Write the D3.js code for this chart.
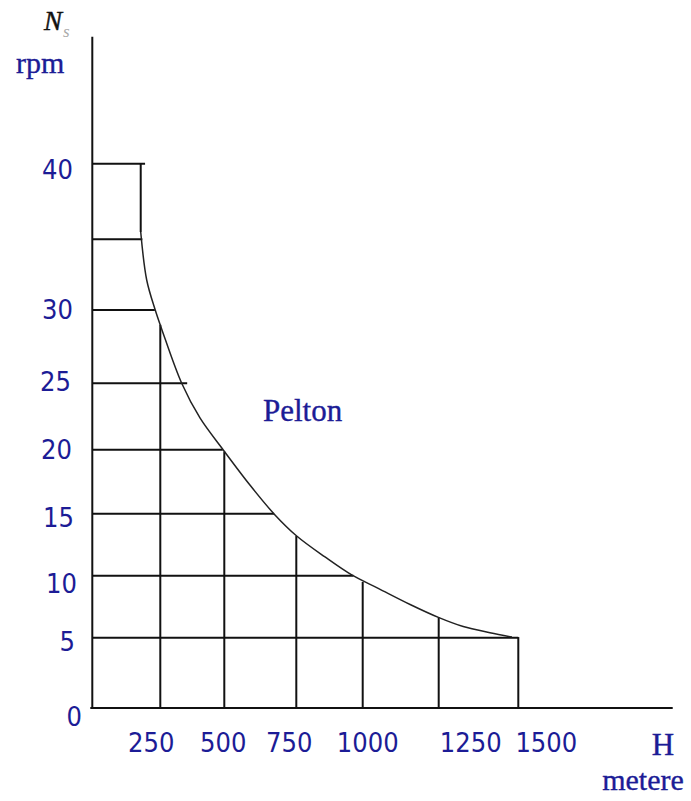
<!DOCTYPE html>
<html>
<head>
<meta charset="utf-8">
<script src="https://cdn.jsdelivr.net/npm/d3@7/dist/d3.min.js"></script>
<style>
  html, body { margin: 0; padding: 0; background: #fff; }
  svg { display: block; }
  .num { font-family: "DejaVu Sans", sans-serif; font-stretch: condensed; font-size: 27px; fill: #1c1c96; }
  .serif { font-family: "Liberation Serif", "Times New Roman", serif; fill: #1c1c96; stroke: #1c1c96; stroke-width: 0.35px; }
</style>
</head>
<body>
<script>
// Specific speed Ns (rpm) versus head H (metres) for Pelton turbines

// axis tick values / labels
const nsTicks = [0, 5, 10, 15, 20, 25, 30, 40];
const hTicks = [250, 500, 750, 1000, 1250, 1500];

// Pelton limit curve (H in metres, Ns in rpm)
const curveH  = [178, 200, 230.5, 256.6, 333.6, 405, 496, 589, 676, 751.5, 858, 958.6, 1051, 1156, 1249, 1327, 1411, 1480];
const curveNs = [35.48, 32.12, 30.05, 28.64, 25.0, 22.39, 19.98, 17.24, 14.9, 13.2, 11.51, 10.06, 8.98, 7.68, 6.64, 5.9, 5.4, 5.05];

// horizontal grid lines: Ns level and the head where each meets the curve
const gridNs   = [5, 10, 15, 20, 25, 30, 35, 40];
const gridEndH = [1500, 965, 673, 494, 355, 230, 184, 194];

// vertical grid lines: head and the Ns where each meets the curve
const vertH   = [250, 500, 750, 1000, 1250, 1500];
const vertTop = [29.0, 19.85, 13.2, 9.5, 6.64, 5.05];

// upper step of the band: vertical at H = 178 between Ns 40 and the curve start
const stepH = 178, stepNsTop = 40, stepNsBottom = 35.48;

// axis extents
const hMax = 1985, nsMax = 48.4;

const W = 691, H = 801;
const svg = d3.select("body").append("svg").attr("width", W).attr("height", H);

// piecewise axes (schematic, unevenly spaced divisions)
const x = d3.scaleLinear()
  .domain([0, 250, 500, 750, 1000, 1250, 1500])
  .range([92.3, 160.3, 224.3, 296.3, 362.7, 438.7, 518.3]);
const y = d3.scaleLinear()
  .domain([0, 5, 10, 15, 20, 25, 30, 35, 40])
  .range([708, 637.7, 575.7, 513.7, 449.7, 383.3, 310, 239.3, 163.7]);

const ink = "#111";

// grid lines
svg.append("g").selectAll("line").data(gridNs).join("line")
  .attr("x1", x(0)).attr("x2", (d, i) => x(gridEndH[i]))
  .attr("y1", d => y(d)).attr("y2", d => y(d))
  .attr("stroke", ink).attr("stroke-width", 2);

svg.append("g").selectAll("line").data(vertH).join("line")
  .attr("x1", d => x(d)).attr("x2", d => x(d))
  .attr("y1", y(0)).attr("y2", (d, i) => y(vertTop[i]))
  .attr("stroke", ink).attr("stroke-width", 2);

svg.append("line")
  .attr("x1", x(stepH)).attr("x2", x(stepH))
  .attr("y1", y(stepNsTop)).attr("y2", y(stepNsBottom))
  .attr("stroke", ink).attr("stroke-width", 2);

// axes
svg.append("line").attr("x1", x(0)).attr("x2", x(0)).attr("y1", y(0)).attr("y2", y(nsMax))
  .attr("stroke", ink).attr("stroke-width", 2);
svg.append("line").attr("x1", x(0) - 2).attr("x2", x(hMax)).attr("y1", y(0)).attr("y2", y(0))
  .attr("stroke", ink).attr("stroke-width", 2);

// Pelton curve
const pts = curveH.map((h, i) => [h, curveNs[i]]);
svg.append("path")
  .datum(pts)
  .attr("d", d3.line().x(d => x(d[0])).y(d => y(d[1])).curve(d3.curveCatmullRom.alpha(0.5)))
  .attr("fill", "none").attr("stroke", "#222").attr("stroke-width", 1.5);

// y tick labels
const yShift = { 0: [9, 8], 5: [2, 3], 10: [4, 7], 15: [1, 3], 20: [-1, -1], 25: [-2, -2], 30: [0, -1], 40: [0, 5] };
svg.append("g").selectAll("text").data(nsTicks).join("text")
  .attr("class", "num")
  .attr("text-anchor", "end")
  .attr("x", d => 73 + yShift[d][0])
  .attr("y", d => y(d) + yShift[d][1] + 10)
  .text(d => d);

// x tick labels
const xShift = { 250: -9, 500: -1, 750: -7, 1000: 5, 1250: 32, 1500: 28 };
svg.append("g").selectAll("text").data(hTicks).join("text")
  .attr("class", "num")
  .attr("text-anchor", "middle")
  .attr("x", d => x(d) + xShift[d])
  .attr("y", 752)
  .text(d => d);

// axis titles
const ns = svg.append("text").attr("x", 44).attr("y", 30)
  .attr("font-family", "Liberation Serif, serif");
ns.append("tspan").attr("font-style", "italic")
  .attr("font-size", 27).attr("fill", "#111").attr("stroke", "#111").attr("stroke-width", 0.5).text("N");
ns.append("tspan").attr("font-style", "italic").attr("font-size", 17)
  .attr("fill", "#aaa").attr("dy", 7).attr("dx", 1).text("s");

svg.append("text").attr("class", "serif").attr("font-size", 30)
  .attr("x", 16).attr("y", 73).text("rpm");

svg.append("text").attr("class", "serif").attr("font-size", 31)
  .attr("x", 263).attr("y", 421).text("Pelton");

svg.append("text").attr("class", "serif").attr("font-size", 31)
  .attr("text-anchor", "middle").attr("x", 663).attr("y", 755).text("H");

svg.append("text").attr("class", "serif").attr("font-size", 30)
  .attr("text-anchor", "middle").attr("x", 643).attr("y", 790).text("metere");
</script>
</body>
</html>
